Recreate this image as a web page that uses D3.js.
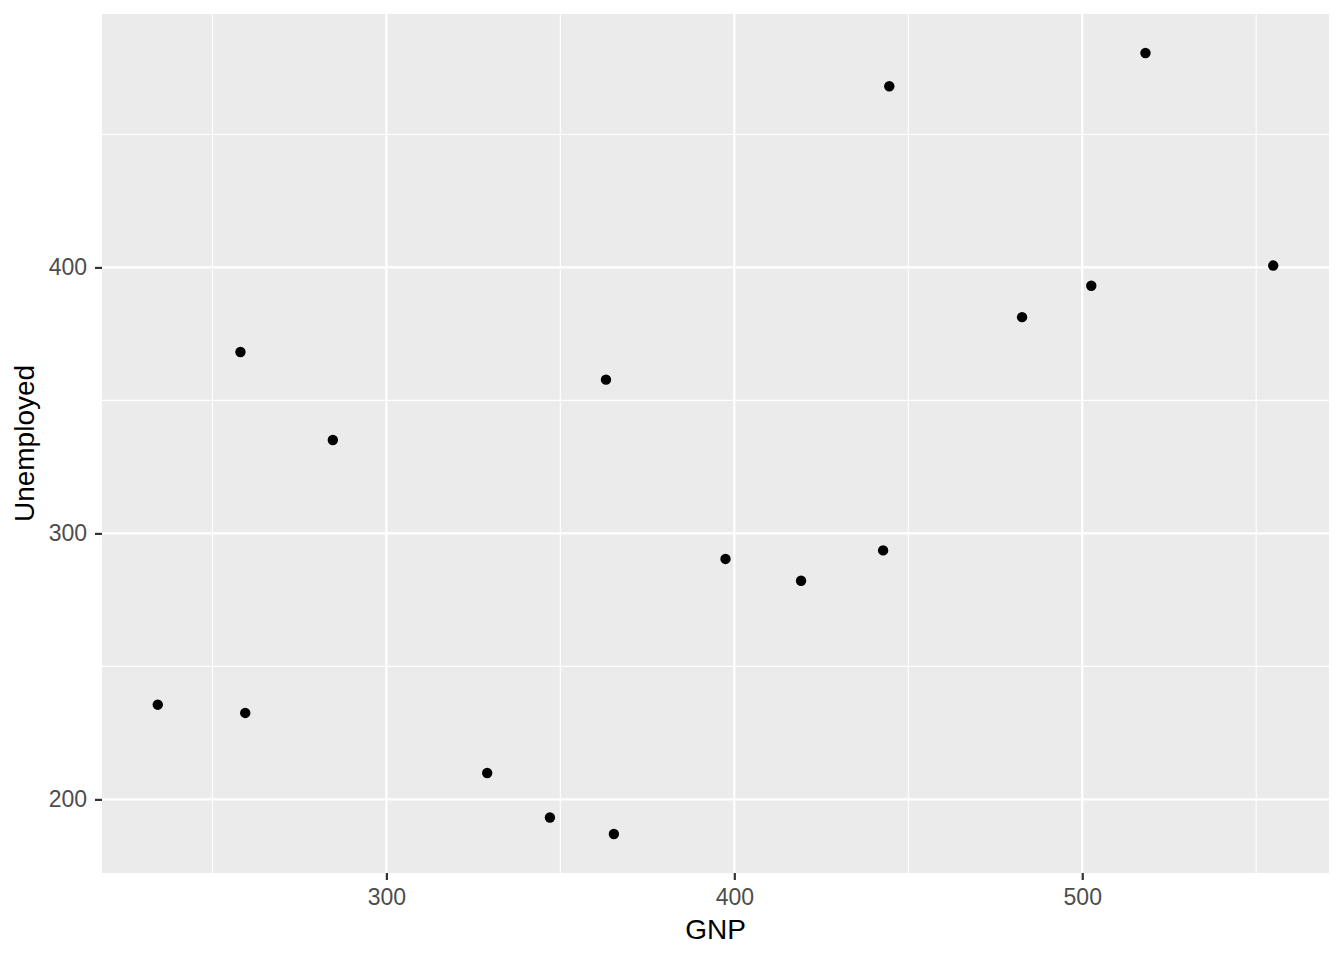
<!DOCTYPE html>
<html><head><meta charset="utf-8">
<script src="https://cdn.jsdelivr.net/npm/d3@7"></script>
<style>body{margin:0;background:#fff}</style>
</head><body><svg id="c" width="1344" height="960"></svg>
<script>
const gnp = [234.289, 259.426, 258.054, 284.599, 328.975, 346.999, 365.385, 363.112, 397.469, 419.180, 442.769, 444.546, 482.704, 502.601, 518.173, 554.894];
const unemployed = [235.6, 232.5, 368.2, 335.1, 209.9, 193.2, 187.0, 357.8, 290.4, 282.2, 293.6, 468.1, 381.3, 393.1, 480.6, 400.7];
const xTicks = [300, 400, 500];
const xMinor = [250, 350, 450, 550];
const yTicks = [200, 300, 400];
const yMinor = [250, 350, 450];

const L = 102, R = 1329, T = 14, B = 873;
const FONT = "Liberation Sans, Arial, sans-serif";
const svg = d3.select("#c");
const xr = d3.extent(gnp), yr = d3.extent(unemployed);
const xp = (xr[1]-xr[0])*0.05, yp = (yr[1]-yr[0])*0.05;
const x = d3.scaleLinear().domain([xr[0]-xp, xr[1]+xp]).range([L, R]);
const y = d3.scaleLinear().domain([yr[0]-yp, yr[1]+yp]).range([B, T]);

svg.append("rect").attr("x", L).attr("y", T).attr("width", R-L).attr("height", B-T).attr("fill", "#EBEBEB");
const g = svg.append("g");
g.selectAll(".xm").data(xMinor).join("line").attr("x1", d=>x(d)).attr("x2", d=>x(d)).attr("y1", T).attr("y2", B).attr("stroke", "#fff").attr("stroke-width", 1.1);
g.selectAll(".ym").data(yMinor).join("line").attr("y1", d=>y(d)).attr("y2", d=>y(d)).attr("x1", L).attr("x2", R).attr("stroke", "#fff").attr("stroke-width", 1.1);
g.selectAll(".xM").data(xTicks).join("line").attr("x1", d=>x(d)).attr("x2", d=>x(d)).attr("y1", T).attr("y2", B).attr("stroke", "#fff").attr("stroke-width", 2.2);
g.selectAll(".yM").data(yTicks).join("line").attr("y1", d=>y(d)).attr("y2", d=>y(d)).attr("x1", L).attr("x2", R).attr("stroke", "#fff").attr("stroke-width", 2.2);

const xAxis = d3.axisBottom(x).tickValues(xTicks).tickSize(7).tickPadding(9);
const yAxis = d3.axisLeft(y).tickValues(yTicks).tickSize(7).tickPadding(8);
const gx = svg.append("g").attr("transform", `translate(0,${B})`).call(xAxis);
const gy = svg.append("g").attr("transform", `translate(${L},0)`).call(yAxis);
[gx, gy].forEach(a => {
  a.select(".domain").remove();
  a.selectAll(".tick line").attr("stroke", "#333").attr("stroke-width", 2.2);
  a.selectAll(".tick text").attr("fill", "#4D4D4D").style("font-family", FONT).style("font-size", "23px");
});

svg.selectAll(".pt").data(gnp).join("circle")
  .attr("cx", d => x(d)).attr("cy", (d,i) => y(unemployed[i])).attr("r", 5.2).attr("fill", "#000");

svg.append("text").attr("x", (L+R)/2).attr("y", 939).attr("text-anchor", "middle")
  .style("font-family", FONT).style("font-size", "28px").attr("fill", "#000").text("GNP");
svg.append("text").attr("transform", `translate(34,${(T+B)/2}) rotate(-90)`).attr("text-anchor", "middle")
  .style("font-family", FONT).style("font-size", "28px").attr("fill", "#000").text("Unemployed");
</script></body></html>
